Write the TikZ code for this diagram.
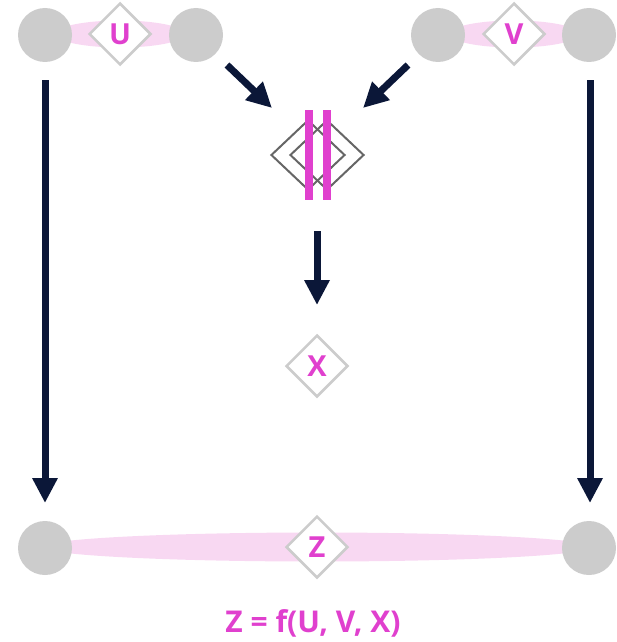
\documentclass[tikz,border=0pt]{standalone}
\usepackage{fontspec}
\setmainfont{Open Sans}
\usetikzlibrary{shapes.geometric,arrows.meta}
\definecolor{navy}{HTML}{0B1738}
\definecolor{dotgray}{HTML}{CCCCCC}
\definecolor{pinkband}{HTML}{F8D8F2}
\definecolor{magenta2}{HTML}{E040CE}
\definecolor{darkgray2}{HTML}{666666}
\tikzset{
  dot/.style={circle,fill=dotgray,minimum size=54pt,inner sep=0pt},
  label diamond/.style={diamond,draw=dotgray,line width=2.5pt,fill=white,minimum width=62pt,minimum height=62pt,inner sep=0pt,text=magenta2,font=\bfseries\fontsize{29pt}{29pt}\selectfont},
  band/.style={fill=pinkband},
  bigarrow/.style={draw=navy,line width=7pt,-{Triangle[length=25pt,width=24pt]}},
  outline diamond/.style={diamond,draw=darkgray2,line width=2pt,minimum width=74pt,minimum height=70pt,inner sep=0pt},
  bar/.style={fill=magenta2}
}
\begin{document}
\begin{tikzpicture}[x=1pt,y=-1pt]
\useasboundingbox (0,0) rectangle (617,642);
% bands
\fill[band] (120,34) ellipse [x radius=65, y radius=13.5];
\fill[band] (514,34) ellipse [x radius=65, y radius=13.5];
\fill[band] (317,547) ellipse [x radius=275, y radius=14.5];
% circles
\node[dot] (u1) at (45,35) {};
\node[dot] (u2) at (196,35) {};
\node[dot] (v1) at (438,35) {};
\node[dot] (v2) at (589,35) {};
\node[dot] (z1) at (45,548) {};
\node[dot] (z2) at (589,548) {};
% label diamonds
\node[label diamond] (U) at (120,34) {U};
\node[label diamond] (V) at (514,34) {V};
\node[label diamond] (X) at (317,366) {X};
\node[label diamond] (Z) at (317,547) {Z};
% combiner
\node[outline diamond] (c1) at (308,155) {};
\node[outline diamond] (c2) at (327,155) {};
\fill[bar] (305,110) rectangle (313,200);
\fill[bar] (323,110) rectangle (331,200);
% arrow coordinates
\coordinate (aL1) at (45,80);
\coordinate (aL2) at (45,503);
\coordinate (aR1) at (590,80);
\coordinate (aR2) at (590,503);
\coordinate (dL1) at (227,65);
\coordinate (dL2) at (272,108);
\coordinate (dR1) at (408,65);
\coordinate (dR2) at (363,108);
\coordinate (m1) at (317,231);
\coordinate (m2) at (317,305);
\draw[bigarrow] (aL1) -- (aL2);
\draw[bigarrow] (aR1) -- (aR2);
\draw[bigarrow] (dL1) -- (dL2);
\draw[bigarrow] (dR1) -- (dR2);
\draw[bigarrow] (m1) -- (m2);
% formula
\node[anchor=base,text=magenta2,font=\bfseries\fontsize{30pt}{30pt}\selectfont,inner sep=0pt] (f) at (313,632) {Z = f(U, V, X)};
\end{tikzpicture}
\end{document}
